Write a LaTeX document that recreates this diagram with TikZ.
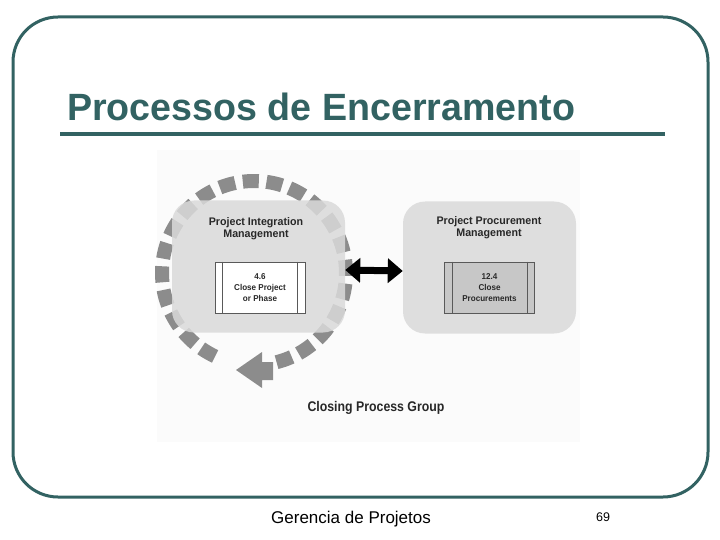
\documentclass[tikz,border=0pt]{standalone}
\usepackage{fontspec}
\setmainfont{Liberation Sans}
\usepackage{tikz}
\usetikzlibrary{arrows.meta,shapes}
\definecolor{slideteal}{RGB}{50,98,98}
\definecolor{ringgray}{RGB}{140,140,140}
\definecolor{areagray}{RGB}{218,218,218}
\definecolor{txtgray}{RGB}{40,40,40}
\tikzstyle{frame}=[draw=slideteal,line width=3pt,rounded corners=45pt]
\tikzstyle{area}=[rounded corners=22pt,fill=areagray,fill opacity=0.85,minimum width=173pt,minimum height=132pt,inner sep=0pt]
\tikzstyle{area title}=[font=\fontsize{11}{12}\selectfont\bfseries,text=txtgray,align=center,xscale=.97]
\tikzstyle{process}=[draw=black!65,line width=1pt,minimum width=90pt,minimum height=51pt,inner sep=0pt]
\tikzstyle{process text}=[font=\fontsize{8.5}{11}\selectfont\bfseries,text=txtgray,align=center,xscale=.95]
\tikzstyle{ring dash}=[draw=ringgray,line width=14pt]
\tikzstyle{edge}=[draw,line width=7pt,{Triangle[length=15pt,width=24pt]}-{Triangle[length=15pt,width=24pt]}]

\begin{document}
\begin{tikzpicture}[x=1pt,y=-1pt]
        \useasboundingbox (0,0) rectangle (720,540);
        \draw[frame] (13,17) rectangle (708,497);
        \node[anchor=base west,inner sep=0pt,text=slideteal,font=\fontsize{38}{40}\selectfont\bfseries,xscale=.99] (title) at (67,121) {Processos de Encerramento};
        \draw[slideteal,line width=3.5pt] (60,134) -- (665,134);
        % figure
        \fill[black!1.5] (157,150) rectangle (580,442);
        \begin{scope}[shift={(254,273)}]
          \foreach \i in {0,...,21}
            \draw[ring dash] ({115+\i*14.8}:92) arc[start angle={115+\i*14.8}, delta angle=10, radius=92];
          \fill[ringgray] (-18,97) -- (8,79) -- (8,89) -- (19,89) -- (19,107) -- (8,107) -- (8,115) -- cycle;
        \end{scope}
        \node[area] (integ) at (258.5,266.5) {};
        \node[area] (procure) at (489.5,267.5) {};
        \node[area title] (integ title) at (256,228.5) {Project Integration\\Management};
        \node[area title] (procure title) at (489,227.5) {Project Procurement\\Management};
        \node[process,fill=white] (close) at (260,287.5) {};
        \node[process,fill=black!22] (procs) at (489.5,287.5) {};
        \draw[black!65,line width=1pt] ([xshift=8pt]close.north west) -- ([xshift=8pt]close.south west);
        \draw[black!65,line width=1pt] ([xshift=-8pt]close.north east) -- ([xshift=-8pt]close.south east);
        \draw[black!65,line width=1pt] ([xshift=8pt]procs.north west) -- ([xshift=8pt]procs.south west);
        \draw[black!65,line width=1pt] ([xshift=-8pt]procs.north east) -- ([xshift=-8pt]procs.south east);
        \node[process text] (close text) at (close) {4.6\\Close Project\\or Phase};
        \node[process text] (procs text) at (procs) {12.4\\Close\\Procurements};
        \draw[edge] ([yshift=-3.5pt]integ.east) to ([yshift=-3.5pt]procure.west);
        \node[font=\fontsize{14}{16}\selectfont\bfseries,text=txtgray,xscale=.88] (group) at (376,408) {Closing Process Group};
        % footer
        \node[anchor=base west,inner sep=0pt,font=\fontsize{17}{20}\selectfont] (footer) at (271,523) {Gerencia de Projetos};
        \node[anchor=base west,inner sep=0pt,font=\fontsize{12.5}{14}\selectfont] (page) at (596,521) {69};
      \end{tikzpicture}
\end{document}
